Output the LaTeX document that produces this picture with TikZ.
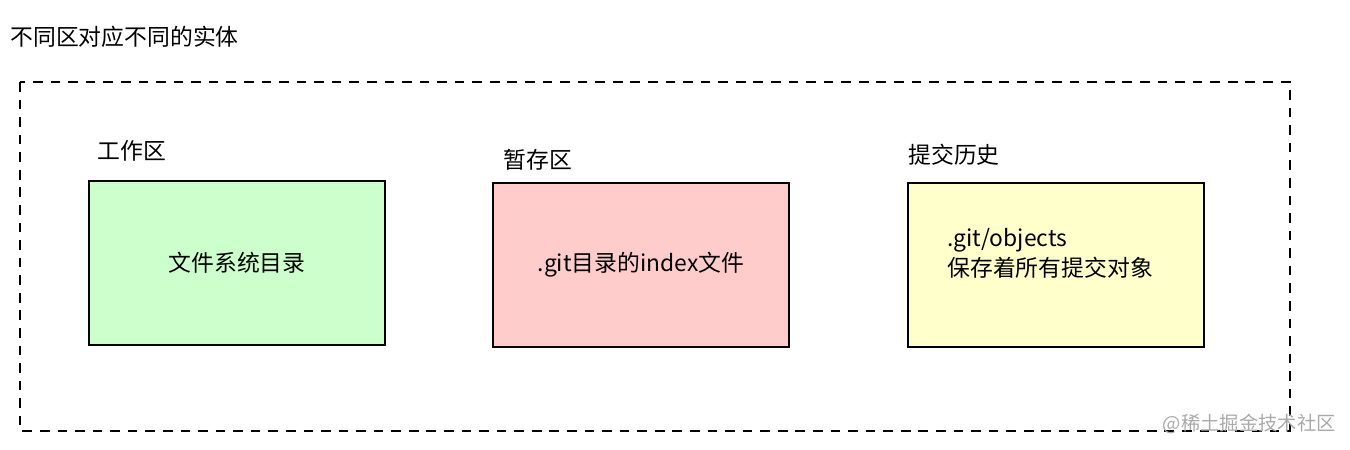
\documentclass[tikz,border=0pt]{standalone}
\usepackage{fontspec}
\setmainfont{Noto Sans CJK SC}
\definecolor{AreaGreen}{RGB}{204,255,204}
\definecolor{AreaRed}{RGB}{255,204,204}
\definecolor{AreaYellow}{RGB}{255,255,204}
\definecolor{MarkGray}{RGB}{170,170,170}
\usetikzlibrary{positioning}

\begin{document}
\begin{tikzpicture}[
      x=0.02cm, y=-0.02cm,
      every node/.style={font=\fontsize{13}{17}\selectfont, inner sep=0pt},
      area/.style={rectangle, draw=black, line width=1.1pt,
                   minimum width=5.92cm, minimum height=3.28cm, align=center},
      areaname/.style={anchor=west},
      frame/.style={draw=black, line width=0.8pt, dash pattern=on 5.5pt off 4.5pt}
    ]
      \useasboundingbox (0,0) rectangle (1350,450);
      \node[anchor=west] (title) at (10,37) {不同区对应不同的实体};
      \draw[frame] (20,82) rectangle (1290,431);

      \node[area, fill=AreaGreen] (work) at (237,263) {文件系统目录};
      \node[area, fill=AreaRed] (stage) at (641,265) {.git目录的index文件};
      \node[area, fill=AreaYellow] (hist) at (1056,265) {};
      \node[anchor=west, align=left] (histtext) at (947,253)
        {.git/objects\\保存着所有提交对象};

      \node[areaname] (workname) at (97,151) {工作区};
      \node[areaname] (stagename) at (503,160) {暂存区};
      \node[areaname] (histname) at (908,155) {提交历史};

      \node[anchor=east, text=MarkGray, font=\fontsize{11}{13}\selectfont] (mark) at (1336,424) {@稀土掘金技术社区};
    \end{tikzpicture}
\end{document}
